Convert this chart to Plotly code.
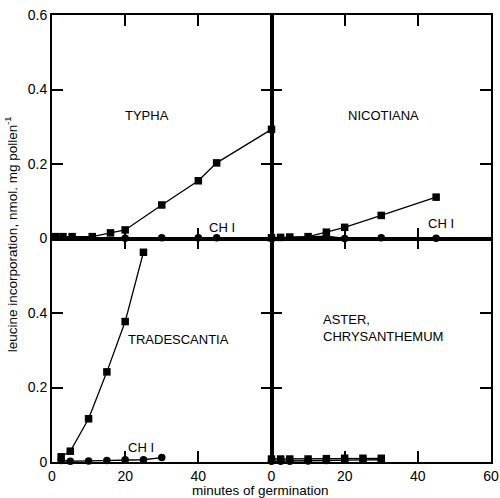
import plotly.graph_objects as go
from plotly.subplots import make_subplots

# ---- data ----
typha_x = [1, 3, 5.5, 11, 16, 20, 30, 40, 45, 60]
typha_y = [0.005, 0.005, 0.005, 0.005, 0.015, 0.023, 0.09, 0.155, 0.203, 0.293]
typha_chi_x = [20, 30, 40, 45]
typha_chi_y = [0.001, 0.002, 0.002, 0.002]

nico_x = [0, 2.5, 5, 10, 15, 20, 30, 45]
nico_y = [0.002, 0.003, 0.004, 0.005, 0.017, 0.03, 0.062, 0.111]
nico_chi_x = [0, 15, 20, 30, 45]
nico_chi_y = [0.001, 0.006, 0.0, 0.002, 0.001]

trad_x = [2.5, 5, 10, 15, 20, 25]
trad_y = [0.014, 0.029, 0.116, 0.242, 0.377, 0.563]
trad_chi_x = [2.5, 5, 10, 15, 20, 25, 30]
trad_chi_y = [0.004, 0.002, 0.003, 0.004, 0.006, 0.006, 0.012]

aster_x = [0, 2.5, 5, 10, 15, 20, 25, 30]
aster_y = [0.008, 0.008, 0.008, 0.008, 0.009, 0.01, 0.01, 0.01]
aster_chi_x = [0, 2.5, 5, 10, 15, 20, 25, 30]
aster_chi_y = [0.002, 0.002, 0.002, 0.003, 0.004, 0.005, 0.005, 0.006]

x_ticks_left = [0, 20, 40]
x_ticks_right = [0, 20, 40, 60]
y_ticks_top = [0, 0.2, 0.4, 0.6]
y_ticks_bottom = [0, 0.2, 0.4]

fig = make_subplots(rows=2, cols=2, horizontal_spacing=0, vertical_spacing=0)

def add_series(x, y, symbol, row, col):
    fig.add_trace(go.Scatter(
        x=x, y=y, mode="lines+markers",
        line=dict(color="black", width=1.3),
        marker=dict(symbol=symbol, size=7.5, color="black"),
        showlegend=False, cliponaxis=False), row=row, col=col)

add_series(typha_chi_x, typha_chi_y, "circle", 1, 1)
add_series(typha_x, typha_y, "square", 1, 1)
add_series(nico_chi_x, nico_chi_y, "circle", 1, 2)
add_series(nico_x, nico_y, "square", 1, 2)
add_series(trad_chi_x, trad_chi_y, "circle", 2, 1)
add_series(trad_x, trad_y, "square", 2, 1)
add_series(aster_chi_x, aster_chi_y, "circle", 2, 2)
add_series(aster_x, aster_y, "square", 2, 2)

FAM = "Liberation Sans, Arial, sans-serif"
font = dict(family=FAM, size=14, color="black")
common = dict(showline=True, linecolor="black", linewidth=1.8, mirror="ticks",
              ticks="inside", ticklen=11, tickwidth=1.8, tickcolor="black",
              showgrid=False, zeroline=False, tickfont=font, automargin=False)

for r in (1, 2):
    for c in (1, 2):
        xt = x_ticks_right if c == 2 else x_ticks_left
        fig.update_xaxes(range=[0, 60], tickvals=xt, ticktext=[str(v) for v in xt],
                         showticklabels=(r == 2), row=r, col=c, **common)
        yt = y_ticks_top if r == 1 else y_ticks_bottom
        fig.update_yaxes(range=[0, 0.6], tickvals=yt,
                         ticktext=["0" if v == 0 else "%.1f" % v for v in yt],
                         showticklabels=(c == 1), row=r, col=c, **common)

ann_font = dict(family=FAM, size=13, color="black")
anns = [
    dict(text="TYPHA", x=26, y=0.33, xref="x", yref="y", xanchor="center"),
    dict(text="NICOTIANA", x=30.5, y=0.33, xref="x2", yref="y2", xanchor="center"),
    dict(text="CH I", x=42.3, y=0.03, xref="x", yref="y", xanchor="left"),
    dict(text="CH I", x=42.3, y=0.04, xref="x2", yref="y2", xanchor="left"),
    dict(text="TRADESCANTIA", x=20.3, y=0.33, xref="x3", yref="y3", xanchor="left"),
    dict(text="CH I", x=20.3, y=0.04, xref="x3", yref="y3", xanchor="left"),
    dict(text="ASTER,<br>CHRYSANTHEMUM", x=13.5, y=0.36, xref="x4", yref="y4",
         xanchor="left", align="left"),
]
for a in anns:
    fig.add_annotation(showarrow=False, font=ann_font, yanchor="middle", **a)

fig.add_annotation(text="leucine incorporation, nmol. mg pollen<sup>-1</sup>",
                   xref="paper", yref="paper", x=-0.093, y=0.51, textangle=-90,
                   showarrow=False, xanchor="center", yanchor="middle",
                   font=dict(family=FAM, size=13.5, color="black"))
fig.add_annotation(text="minutes of germination", xref="paper", yref="paper",
                   x=0.476, y=-0.063, showarrow=False, xanchor="center", yanchor="middle",
                   font=dict(family=FAM, size=13.5, color="black"))

fig.update_layout(width=500, height=498, margin=dict(l=52, r=9, t=15, b=36),
                  paper_bgcolor="white", plot_bgcolor="white")
fig.write_html("out.html", config={"displayModeBar": False},
               post_script="document.body.style.margin='0';")
